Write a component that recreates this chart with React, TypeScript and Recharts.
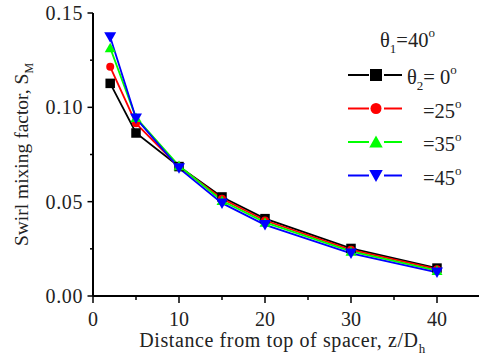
import { LineChart, Line, XAxis, YAxis, Legend } from 'recharts'

// distance from top of spacer, z/Dh
const distance = [2, 5, 10, 15, 20, 30, 40]

// swirl mixing factor S_M for theta1 = 40 deg
const smTheta0 = [0.1127, 0.0864, 0.0686, 0.0525, 0.041, 0.0252, 0.0148]
const smTheta25 = [0.1215, 0.0915, 0.0685, 0.0515, 0.04, 0.0245, 0.0142]
const smTheta35 = [0.1315, 0.0945, 0.069, 0.0505, 0.039, 0.0236, 0.0135]
const smTheta45 = [0.1373, 0.0942, 0.0678, 0.0492, 0.0377, 0.0226, 0.0125]

const seriesKeys = ['t0', 't25', 't35', 't45']
const seriesAngles = ['0', '25', '35', '45']
const seriesColors = ['#000000', '#ff0000', '#00ff00', '#0000ff']
const seriesShapes = ['square', 'circle', 'up', 'down']

const xTicks = [0, 5, 10, 15, 20, 25, 30, 35, 40, 45]
const yTicks = [0, 0.025, 0.05, 0.075, 0.1, 0.125, 0.15]

const data = distance.map((z, i) => ({
  z,
  t0: smTheta0[i],
  t25: smTheta25[i],
  t35: smTheta35[i],
  t45: smTheta45[i],
}))

const FONT = '"Liberation Serif", "Times New Roman", serif'

const dotSize: Record<string, number> = { square: 9.5, circle: 8, up: 11, down: 12 }
const legendSize: Record<string, number> = { square: 12, circle: 11, up: 13.5, down: 13.5 }

function Marker({ kind, color, x, y, size }: { kind: string; color: string; x: number; y: number; size: number }) {
  const h = size / 2
  if (kind === 'square') return <rect x={x - h} y={y - h} width={size} height={size} fill={color} />
  if (kind === 'circle') return <circle cx={x} cy={y} r={h} fill={color} />
  if (kind === 'up')
    return <polygon points={`${x - h},${y + h * 0.8} ${x + h},${y + h * 0.8} ${x},${y - h * 0.95}`} fill={color} />
  return <polygon points={`${x - h},${y - h * 0.8} ${x + h},${y - h * 0.8} ${x},${y + h * 0.95}`} fill={color} />
}

const makeDot = (kind: string, color: string) => (p: any) => (
  <Marker key={`${kind}-${p.index}`} kind={kind} color={color} x={p.cx} y={p.cy} size={dotSize[kind]} />
)

function YTick(props: any) {
  const { x, y, payload } = props
  const major = Math.round(payload.value * 1000) % 50 === 0
  return (
    <g>
      <line x1={x - (major ? 5.5 : 3)} x2={x} y1={y} y2={y} stroke="#000" strokeWidth={1.5} />
      {major && (
        <text
          x={x - 10}
          y={y}
          dy="0.35em"
          textAnchor="end"
          fontSize={20}
          letterSpacing={0.6}
          fontFamily={FONT}
          fill="#222"
        >
          {payload.value.toFixed(2)}
        </text>
      )}
    </g>
  )
}

function XTick(props: any) {
  const { x, y, payload } = props
  const major = payload.value % 10 === 0
  return (
    <g>
      <line x1={x} x2={x} y1={y} y2={y + (major ? 7 : 4)} stroke="#000" strokeWidth={1.5} />
      {major && (
        <text x={x} y={y + 16} dy="0.71em" textAnchor="middle" fontSize={20} fontFamily={FONT} fill="#222">
          {payload.value}
        </text>
      )}
    </g>
  )
}

function XTitle(props: any) {
  const { x, width } = props.viewBox
  return (
    <text
      x={x + width / 2 - 4}
      y={347}
      textAnchor="middle"
      fontSize={20}
      letterSpacing={0.6}
      fontFamily={FONT}
      fill="#222"
    >
      Distance from top of spacer, z/D
      <tspan dy={6} fontSize={13}>h</tspan>
    </text>
  )
}

function YTitle(props: any) {
  const { y, height } = props.viewBox
  const cy = y + height / 2
  return (
    <text
      x={28}
      y={cy}
      transform={`rotate(-90, 28, ${cy})`}
      textAnchor="middle"
      fontSize={19.5}
      fontFamily={FONT}
      fill="#222"
    >
      Swirl mixing factor, S
      <tspan dy={5} fontSize={12}>M</tspan>
    </text>
  )
}

const LEG_LEFT = 340
const LEG_TOP = 25

function LegendBox() {
  const rowY = (i: number) => 75 + i * 33.5 - LEG_TOP
  return (
    <svg width={140} height={175} style={{ overflow: 'visible' }}>
      <text x={380 - LEG_LEFT} y={47 - LEG_TOP} fontSize={20.5} fontFamily={FONT} fill="#222">
        θ<tspan dy={6} fontSize={13}>1</tspan>
        <tspan dy={-6} fontSize={20.5}>=40</tspan>
        <tspan dy={-10} fontSize={13}>o</tspan>
      </text>
      {seriesKeys.map((k, i) => {
        const y = rowY(i)
        return (
          <g key={k}>
            <line x1={348 - LEG_LEFT} x2={369 - LEG_LEFT} y1={y} y2={y} stroke={seriesColors[i]} strokeWidth={2} />
            <line x1={384 - LEG_LEFT} x2={402 - LEG_LEFT} y1={y} y2={y} stroke={seriesColors[i]} strokeWidth={2} />
            <Marker kind={seriesShapes[i]} color={seriesColors[i]} x={376 - LEG_LEFT} y={y} size={legendSize[seriesShapes[i]]} />
            {i === 0 ? (
              <text x={407 - LEG_LEFT} y={y + 9} fontSize={20.5} fontFamily={FONT} fill="#222">
                θ<tspan dy={6} fontSize={13}>2</tspan>
                <tspan dy={-6} fontSize={20.5}>= {seriesAngles[i]}</tspan>
                <tspan dy={-10} fontSize={13}>o</tspan>
              </text>
            ) : (
              <text x={423 - LEG_LEFT} y={y + 9} fontSize={20.5} fontFamily={FONT} fill="#222">
                ={seriesAngles[i]}
                <tspan dy={-10} fontSize={13}>o</tspan>
              </text>
            )}
          </g>
        )
      })}
    </svg>
  )
}

export default function App() {
  return (
    <div
      style={{
        position: 'absolute',
        left: 0,
        top: 0,
        width: 479,
        height: 363,
        overflow: 'hidden',
        background: '#fff',
      }}
    >
      <LineChart width={484} height={363} data={data} margin={{ top: 13, right: 4, left: 33, bottom: 27 }}>
        <XAxis
          dataKey="z"
          type="number"
          domain={[0, 45]}
          ticks={xTicks}
          interval={0}
          tickSize={0}
          tickMargin={0}
          tickLine={false}
          tick={<XTick />}
          height={40}
          axisLine={{ stroke: '#000', strokeWidth: 2 }}
          label={{ content: XTitle }}
        />
        <XAxis
          xAxisId="top"
          orientation="top"
          dataKey="z"
          type="number"
          domain={[0, 45]}
          height={0}
          tick={false}
          tickLine={false}
          axisLine={{ stroke: '#000', strokeWidth: 2 }}
        />
        <YAxis
          type="number"
          domain={[0, 0.15]}
          ticks={yTicks}
          interval={0}
          tickSize={0}
          tickMargin={0}
          tickLine={false}
          tick={<YTick />}
          width={60}
          axisLine={{ stroke: '#000', strokeWidth: 2 }}
          label={{ content: YTitle }}
        />
        <Legend
          layout="vertical"
          align="center"
          verticalAlign="middle"
          wrapperStyle={{ left: LEG_LEFT, top: LEG_TOP, width: 140, height: 175 }}
          content={() => <LegendBox />}
        />
        {seriesKeys.map((k, i) => (
          <Line
            key={k}
            dataKey={k}
            type="linear"
            stroke={seriesColors[i]}
            strokeWidth={1.8}
            dot={makeDot(seriesShapes[i], seriesColors[i])}
            activeDot={false}
            isAnimationActive={false}
          />
        ))}
      </LineChart>
    </div>
  )
}
